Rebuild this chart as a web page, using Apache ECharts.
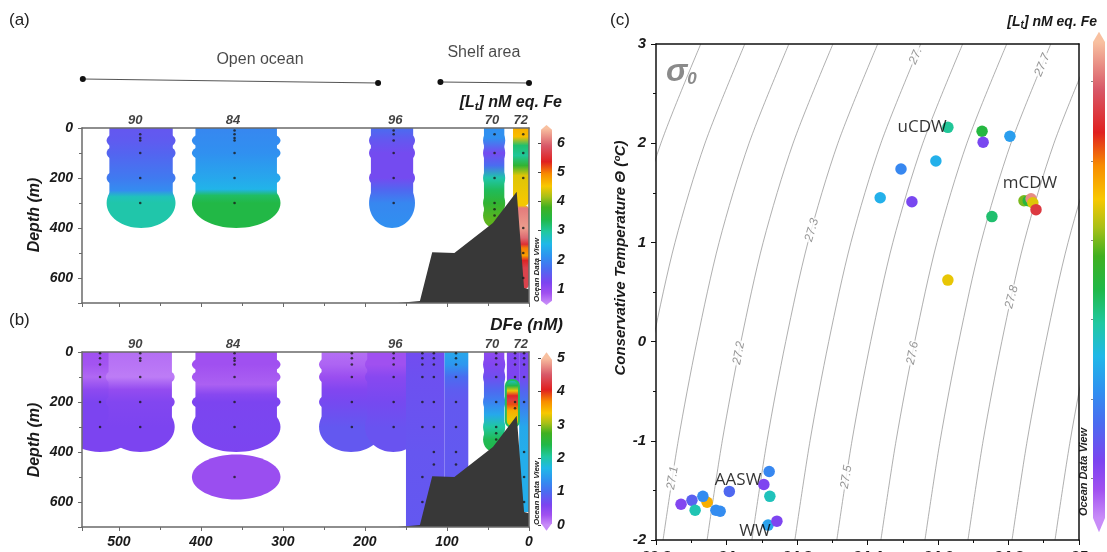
<!DOCTYPE html>
<html><head><meta charset="utf-8">
<script src="https://cdn.jsdelivr.net/npm/echarts@6/dist/echarts.min.js"></script>
<style>html,body{margin:0;padding:0;background:#fff}#c{width:1107px;height:552px}</style>
</head><body><div id="c"></div>
<script>
// ---------------- DATA ----------------
// Section (a): total ligands [Lt] (nM eq. Fe) vs distance (km) and depth (m)
const secA_labelNames = ['90','84','96','70','72'];
const secA_labelKm = [480, 361, 163, 45, 10];
const secA_sampleKm = [474, 359, 165, 42, 7];
const secA_sampleDepths = [[25,40,50,100,200,300],[10,25,40,50,100,200,300],[10,25,50,100,200,300],[25,100,200,300,325,350],[25,100,200,400,500,600]];
const secA_prof90 = [[0,1.45],[50,1.5],[100,1.6],[200,1.85],[250,2.05],[275,2.8],[300,2.9],[400,2.9]];
const secA_prof84 = [[0,2.0],[100,2.1],[200,2.35],[245,2.5],[270,3.25],[300,3.4],[400,3.4]];
const secA_prof96 = [[0,1.7],[50,1.45],[100,1.3],[200,1.3],[250,1.65],[300,2.0],[400,2.1]];
const secA_prof70 = [[0,2.1],[40,2.1],[100,1.3],[150,1.7],[200,2.9],[250,3.3],[300,3.6],[370,3.9],[400,3.9]];
const secA_prof72 = [[0,4.7],[35,4.6],[70,3.2],[110,3.0],[150,3.6],[190,4.4],[290,4.5],[310,4.5],[320,6.1],[400,6.3],[440,6.0],[465,5.5],[480,5.0],[510,4.8],[530,5.4],[560,5.7],[645,5.7]];
// gridded patches: [km from, km to, depth from, depth to, profile, footprint, sample depths]
const secA_patches = [
  [515, 431, 0, 400, secA_prof90, 'blob', [50,100,200,300]],
  [411, 303, 0, 400, secA_prof84, 'blob', [50,100,200,300]],
  [195, 139, 0, 400, secA_prof96, 'blob', [50,100,200,300]],
  [56, 29, 0, 400, secA_prof70, 'blob', [50,100,200,300,350]],
  [19.5, 0, 0, 312, secA_prof72, 'roundB'],
  [19.5, 0, 308, 645, secA_prof72, 'round']
];
// Section (b): dissolved Fe (nM)
const secB_labelNames = ['90','84','96','70','72'];
const secB_labelKm = [480, 361, 163, 45, 10];
const secB_sampleKm = [523, 474, 359, 216, 165, 130, 116, 89, 40, 17, 6];
const secB_sampleDepths = [
  [5,25,50,100,200,300],[5,25,35,100,200,300],[5,25,35,50,100,200,300,500],
  [5,25,50,100,200,300],[5,25,50,100,200,300],[5,25,50,100,200,300,500,600],
  [5,25,50,100,200,300,400,450],[5,25,50,100,200,300,400,450],
  [5,25,50,100,200,300,325,350],[5,25,50,100,200,225],[5,25,50,100,200,400,500,600]];
const secB_prof523 = [[0,0.3],[50,0.28],[100,0.18],[150,0.45],[200,0.6],[300,0.6],[400,0.6]];
const secB_prof474 = [[0,0.15],[50,0.12],[100,0.08],[150,0.4],[200,0.55],[300,0.6],[400,0.6]];
const secB_prof84 = [[0,0.3],[50,0.3],[100,0.25],[130,0.22],[170,0.5],[200,0.6],[300,0.62],[400,0.6]];
const secB_prof84deep = [[410,0.35],[590,0.35]];
const secB_prof216 = [[0,0.15],[50,0.2],[100,0.35],[150,0.55],[200,0.65],[300,0.8],[400,0.8]];
const secB_prof165 = [[0,0.3],[50,0.3],[100,0.5],[200,0.65],[300,0.75],[400,0.75]];
const secB_prof123 = [[0,0.68],[100,0.72],[400,0.78],[700,0.8]];
const secB_prof89 = [[0,1.55],[50,1.4],[100,1.0],[150,0.85],[200,0.8],[700,0.82]];
const secB_prof70 = [[0,0.45],[50,0.55],[100,0.7],[150,0.95],[200,1.2],[250,1.55],[300,2.05],[350,2.35],[400,2.4]];
const secB_prof72top = [[0,0.55],[100,0.6],[135,0.65]];
const secB_prof72 = [[0,0.6],[100,0.65],[150,0.9],[200,1.1],[300,1.55],[400,1.6],[640,1.6]];
const secB_profHot = [[112,1.8],[135,2.4],[155,3.3],[175,4.1],[190,4.25],[210,3.9],[235,3.5],[270,3.3],[300,3.2]];
const secB_patches = [
  [568, 478, 0, 400, secB_prof523, 'blob', [50,100,200,300]],
  [516, 432, 0, 400, secB_prof474, 'blob', [100,200,300]],
  [411, 303, 0, 400, secB_prof84, 'blob', [50,100,200,300]],
  [411, 303, 410, 590, secB_prof84deep, 'ellipse'],
  [256, 178, 0, 400, secB_prof216, 'blob', [50,100,200,300]],
  [200, 131, 0, 400, secB_prof165, 'blob', [50,100,200,300]],
  [150, 103, 0, 700, secB_prof123, 'rect'],
  [103, 74, 0, 700, secB_prof89, 'rect'],
  [56, 29, 0, 400, secB_prof70, 'blob', [50,100,200,300,350]],
  [27, 12, 0, 135, secB_prof72top, 'rect'],
  [12, 0, 0, 640, secB_prof72, 'rect'],
  [29.5, 11, 112, 300, secB_profHot, 'halo']
];
// Bathymetry (km, depth)
const bathymetry = [[160,700],[133,692],[118,497],[91,500],[44,380],[15,255],[6,640],[0,645],[0,700]];
// Region brackets (km)
const regionNames = ['Open ocean','Shelf area'];
const regionFromKm = [544, 108];
const regionToKm = [184, 0];
const regionLabelKm = [328, 55];

// Panel (c): T-S diagram
const tsSalinity = [34.628,34.725,34.728,34.804,34.495,34.594,34.436,34.526,34.753,34.844,34.856,34.864,34.869,34.878,34.628,
  34.121,34.106,34.123,34.008,33.871,33.902,33.911,33.945,33.933,33.970,33.982,34.118,34.143];
const tsTemperature = [2.16,2.12,2.01,2.07,1.74,1.82,1.45,1.41,1.26,1.42,1.42,1.44,1.40,1.33,0.62,
  -1.31,-1.44,-1.56,-1.51,-1.64,-1.60,-1.70,-1.62,-1.56,-1.70,-1.71,-1.85,-1.81];
const tsLt = [3.0,3.45,1.25,2.25,2.0,2.45,2.45,1.25,3.2,4.0,3.5,6.2,4.4,5.6,4.45,
  2.0,1.2,2.8,1.65,1.15,1.55,2.85,4.7,2.05,2.05,2.05,2.3,1.2];
const waterMassNames = ['uCDW','mCDW','AASW','WW'];
const waterMassS = [34.555, 34.861, 34.033, 34.081];
const waterMassT = [2.163, 1.60, -1.395, -1.91];
// isopycnals sigma0: salinity at T = -2..3
const isoT = [-2,-1,0,1,2,3];
const isoNames = ['26.9','27.0','27.1','27.2','27.3','27.4','27.5','27.6','27.7','27.8','27.9','28.0'];
const iso269 = [33.570,33.613,33.666,33.729,33.814,33.927];
const iso270 = [33.695,33.738,33.791,33.854,33.939,34.052];
const iso271 = [33.820,33.863,33.916,33.979,34.064,34.177];
const iso272 = [33.945,33.988,34.041,34.104,34.189,34.302];
const iso273 = [34.072,34.115,34.168,34.231,34.316,34.429];
const iso274 = [34.194,34.237,34.290,34.353,34.438,34.551];
const iso275 = [34.313,34.356,34.409,34.472,34.557,34.670];
const iso276 = [34.438,34.481,34.534,34.597,34.682,34.795];
const iso277 = [34.563,34.606,34.659,34.722,34.807,34.920];
const iso278 = [34.685,34.728,34.781,34.844,34.929,35.042];
const iso279 = [34.810,34.853,34.906,34.969,35.054,35.167];
const iso280 = [34.932,34.975,35.028,35.091,35.176,35.289];
const isoLabelText = ['27.1','27.2','27.3','27.','27.5','27.6','27.7','27.8'];
const isoLabelS = [33.847, 34.035, 34.242, 34.537, 34.340, 34.528, 34.896, 34.809];
const isoLabelT = [-1.375, -0.115, 1.125, 2.88, -1.365, -0.115, 2.79, 0.45];

// ---------------- STYLE / HELPERS ----------------
const FONT = "'Liberation Sans', Arial, sans-serif";
const CMAP = [[0,'#c88cf8'],[0.06,'#a050f0'],[0.12,'#7c44f0'],[0.20,'#4a6cf0'],[0.27,'#2f92f0'],[0.34,'#20b8e8'],
  [0.41,'#20c8a0'],[0.48,'#20b848'],[0.55,'#40b020'],[0.61,'#a8c018'],[0.67,'#f8c800'],[0.74,'#f88c00'],
  [0.81,'#e02020'],[0.90,'#d85868'],[1.0,'#f8c0a0']];
function rgbOf(h){return [parseInt(h.slice(1,3),16),parseInt(h.slice(3,5),16),parseInt(h.slice(5,7),16)];}
function cmap(t){
  t = Math.max(0, Math.min(1, t));
  for (let i = 1; i < CMAP.length; i++) {
    if (t <= CMAP[i][0]) {
      const t0 = CMAP[i-1][0], t1 = CMAP[i][0];
      const a = rgbOf(CMAP[i-1][1]), b = rgbOf(CMAP[i][1]);
      const f = (t - t0) / (t1 - t0);
      return 'rgb(' + a.map((c,k)=>Math.round(c + (b[k]-c)*f)).join(',') + ')';
    }
  }
  return CMAP[CMAP.length-1][1];
}
const ltColor = v => cmap((v - 0.5) / 6);
const dfeColor = v => cmap(v / 5);
const clamp01 = x => Math.max(0, Math.min(1, x));
const boldIt = (size, color) => ({fontFamily: FONT, fontWeight: 'bold', fontStyle: 'italic', fontSize: size, color: color || '#1a1a1a'});

function sectionSeries(ai, patches, colorFn) {
  return {
    type: 'custom', xAxisIndex: ai, yAxisIndex: ai, clip: true, z: 2, silent: true,
    data: patches.map((p, i) => [p[0], p[2], i]),
    encode: {x: 0, y: 1},
    renderItem(params, api) {
      const p = patches[api.value(2)];
      const kmL = p[0], kmR = p[1], z0 = p[2], z1 = p[3], prof = p[4], shape = p[5], sc = p[6];
      const a = api.coord([kmL, z0]), b = api.coord([kmR, z1]);
      const x0 = Math.min(a[0], b[0]), x1 = Math.max(a[0], b[0]);
      const y0 = a[1], y1 = b[1];
      const stops = prof.map(d => ({offset: clamp01((d[0] - z0) / (z1 - z0)), color: colorFn(d[1])}));
      const fill = new echarts.graphic.LinearGradient(0, y0, 0, y1, stops, true);
      const cx = (x0 + x1) / 2, hw = (x1 - x0) / 2;
      const ch = [];
      if (shape === 'rect') ch.push({type: 'rect', shape: {x: x0, y: y0, width: x1 - x0, height: y1 - y0}, style: {fill}});
      else if (shape === 'round') ch.push({type: 'rect', shape: {x: x0, y: y0, width: x1 - x0, height: y1 - y0, r: 5}, style: {fill}});
      else if (shape === 'roundB') ch.push({type: 'rect', shape: {x: x0, y: y0, width: x1 - x0, height: y1 - y0, r: [0,0,5,5]}, style: {fill}});
      else if (shape === 'halo') ch.push({type: 'rect', shape: {x: x0 + 1, y: y0, width: x1 - x0 - 2, height: y1 - y0, r: 6}, style: {fill, stroke: colorFn(2.3), lineWidth: 2}});
      else if (shape === 'ellipse') ch.push({type: 'ellipse', shape: {cx, cy: (y0 + y1) / 2, rx: hw, ry: (y1 - y0) / 2}, style: {fill}});
      else if (shape === 'blob') {
        const last = sc[sc.length - 1];
        const yl = api.coord([kmL, last])[1];
        const ry50 = Math.abs(api.coord([kmL, 50])[1] - api.coord([kmL, 0])[1]);
        ch.push({type: 'rect', shape: {x: cx - hw * 0.92, y: y0, width: hw * 1.84, height: yl - y0}, style: {fill}});
        sc.slice(0, -1).forEach(d => ch.push({type: 'ellipse', shape: {cx, cy: api.coord([kmL, d])[1], rx: hw, ry: ry50}, style: {fill}}));
        ch.push({type: 'ellipse', shape: {cx, cy: yl, rx: hw, ry: y1 - yl}, style: {fill}});
      }
      return {type: 'group', children: ch};
    }
  };
}
function bathySeries(ai) {
  return {type: 'custom', xAxisIndex: ai, yAxisIndex: ai, clip: true, z: 3, silent: true, data: [[0, 0]],
    renderItem(params, api) {
      return {type: 'polygon', shape: {points: bathymetry.map(p => api.coord(p))}, style: {fill: '#383838'}};
    }};
}
function dotSeries(ai, kms, depths) {
  const d = [];
  kms.forEach((k, i) => depths[i].forEach(z => d.push([k, z])));
  return {type: 'scatter', xAxisIndex: ai, yAxisIndex: ai, symbolSize: 2.6, z: 6, silent: true,
    itemStyle: {color: '#1a1a1a'}, data: d};
}
function stationLabelSeries(ai, names, kms) {
  return {type: 'scatter', xAxisIndex: ai, yAxisIndex: ai, symbolSize: 0, z: 7, silent: true, clip: false,
    data: names.map((n, i) => ({name: n, value: [kms[i], 0]})),
    label: Object.assign({show: true, position: 'top', distance: 1, formatter: p => p.name}, boldIt(13, '#111'))};
}
function cbarSeries(ai, body, tips, domain) {
  return {type: 'custom', xAxisIndex: ai, yAxisIndex: ai, z: 1, silent: true, clip: false, data: [[0.5, domain[0]]],
    renderItem(params, api) {
      const pts = [[0, body[0]], [0, body[1]], [0.5, tips[1]], [1, body[1]], [1, body[0]], [0.5, tips[0]]].map(p => api.coord(p));
      const yb = api.coord([0, domain[0]])[1], yt = api.coord([0, domain[1]])[1];
      const fill = new echarts.graphic.LinearGradient(0, yb, 0, yt, CMAP.map(c => ({offset: c[0], color: c[1]})), true);
      return {type: 'polygon', shape: {points: pts}, style: {fill}};
    }};
}

const grayLine = {show: true, onZero: false, lineStyle: {color: '#6a6a6a', width: 1.5}};
function secXAxis(gi, showLabels) {
  return {type: 'value', gridIndex: gi, inverse: true, min: 0, max: 545, interval: 100, position: 'bottom',
    axisLine: grayLine, axisTick: {show: true, length: 4, lineStyle: {color: '#6a6a6a'}},
    minorTick: {show: true, splitNumber: 2, length: 3, lineStyle: {color: '#6a6a6a'}},
    axisLabel: Object.assign({show: showLabels, margin: 8, showMaxLabel: false}, boldIt(14)), splitLine: {show: false}, z: 5};
}
function secYAxis(gi) {
  return {type: 'value', gridIndex: gi, inverse: true, min: 0, max: 700, interval: 200,
    axisLine: grayLine, axisTick: {show: true, length: 4, lineStyle: {color: '#6a6a6a'}},
    minorTick: {show: true, splitNumber: 2, length: 3, lineStyle: {color: '#6a6a6a'}},
    axisLabel: Object.assign({margin: 9, showMaxLabel: false}, boldIt(14)), splitLine: {show: false}, z: 5};
}
function frameAxis(gi, pos, min, max, color, width, extra) {
  return Object.assign({type: 'value', gridIndex: gi, position: pos, min, max,
    axisLine: {show: true, onZero: false, lineStyle: {color, width}}, axisTick: {show: false}, axisLabel: {show: false},
    splitLine: {show: false}, z: 5}, extra || {});
}
function hiddenAxis(gi, min, max, extra) {
  return Object.assign({type: 'value', gridIndex: gi, min, max, show: false, splitLine: {show: false}}, extra || {});
}
const isoRows = [iso269, iso270, iso271, iso272, iso273, iso274, iso275, iso276, iso277, iso278, iso279, iso280];
const isoLabelRotate = [81, 79, 74, 67, 81, 79, 68, 76];
const G = (o) => Object.assign({outerBoundsMode: 'none', containLabel: false}, o);

// axis indices: a-section 0 (frame 1), b-section 2 (frame 3), brackets 4, T-S 5 (frame 6), bars 7,8,9
const option = {
  animation: false,
  backgroundColor: '#fff',
  grid: [
    G({left: 82, top: 128, width: 447, height: 175}),   // 0 section a
    G({left: 82, top: 352, width: 447, height: 175}),   // 1 section b
    G({left: 82, top: 40, width: 447, height: 50}),     // 2 region brackets
    G({left: 656, top: 44, width: 423, height: 496}),   // 3 T-S
    G({left: 541, top: 143, width: 11, height: 146}),   // 4 colour bar a
    G({left: 541, top: 358, width: 11, height: 167}),   // 5 colour bar b
    G({left: 1093, top: 42, width: 12, height: 476})    // 6 colour bar c
  ],
  xAxis: [
    secXAxis(0, false),
    frameAxis(0, 'top', 0, 545, '#6a6a6a', 1.5, {inverse: true}),
    secXAxis(1, true),
    frameAxis(1, 'top', 0, 545, '#6a6a6a', 1.5, {inverse: true}),
    hiddenAxis(2, 0, 545, {inverse: true}),
    {type: 'value', gridIndex: 3, min: 33.8, max: 35, interval: 0.2, position: 'bottom',
      axisLine: {show: true, onZero: false, lineStyle: {color: '#111', width: 1.5}},
      axisTick: {show: true, length: 5, lineStyle: {color: '#111'}},
      minorTick: {show: true, splitNumber: 2, length: 3, lineStyle: {color: '#111'}},
      axisLabel: Object.assign({margin: 9}, boldIt(15)), splitLine: {show: false}, z: 5},
    frameAxis(3, 'top', 33.8, 35, '#111', 1.5),
    hiddenAxis(4, 0, 1), hiddenAxis(5, 0, 1), hiddenAxis(6, 0, 1)
  ],
  yAxis: [
    secYAxis(0),
    frameAxis(0, 'right', 0, 700, '#6a6a6a', 1.5, {inverse: true}),
    secYAxis(1),
    frameAxis(1, 'right', 0, 700, '#6a6a6a', 1.5, {inverse: true}),
    hiddenAxis(2, 0, 1, {inverse: true}),
    {type: 'value', gridIndex: 3, min: -2, max: 3, interval: 1,
      axisLine: {show: true, onZero: false, lineStyle: {color: '#111', width: 1.5}},
      axisTick: {show: true, length: 5, lineStyle: {color: '#111'}},
      minorTick: {show: true, splitNumber: 2, length: 3, lineStyle: {color: '#111'}},
      axisLabel: Object.assign({margin: 10}, boldIt(15)), splitLine: {show: false}, z: 5},
    frameAxis(3, 'right', -2, 3, '#111', 1.5),
    {type: 'value', gridIndex: 4, min: 1, max: 6, interval: 1, position: 'right', z: 5,
      axisLine: {show: false}, axisTick: {show: true, inside: true, length: 3, lineStyle: {color: '#444'}},
      axisLabel: Object.assign({margin: 5}, boldIt(14)), splitLine: {show: false}},
    {type: 'value', gridIndex: 5, min: 0, max: 5, interval: 1, position: 'right', z: 5,
      axisLine: {show: false}, axisTick: {show: true, inside: true, length: 3, lineStyle: {color: '#444'}},
      axisLabel: Object.assign({margin: 5}, boldIt(14)), splitLine: {show: false}},
    {type: 'value', gridIndex: 6, min: 0.5, max: 6.5, position: 'right', z: 5,
      axisLine: {show: false}, axisTick: {show: true, inside: true, length: 2, lineStyle: {color: 'rgba(60,60,60,0.6)'},
        customValues: [1,2,3,4,5,6]},
      axisLabel: {show: false}, splitLine: {show: false}}
  ],
  series: [
    sectionSeries(0, secA_patches, ltColor),
    bathySeries(0),
    dotSeries(0, secA_sampleKm, secA_sampleDepths),
    stationLabelSeries(0, secA_labelNames, secA_labelKm),
    sectionSeries(2, secB_patches, dfeColor),
    bathySeries(2),
    dotSeries(2, secB_sampleKm, secB_sampleDepths),
    stationLabelSeries(2, secB_labelNames, secB_labelKm),
    // region brackets
    ...regionNames.map((n, i) => ({type: 'line', xAxisIndex: 4, yAxisIndex: 4, silent: true,
      data: [[regionFromKm[i], i === 0 ? 0.78 : 0.84], [regionToKm[i], 0.86]],
      symbol: 'circle', symbolSize: 6, itemStyle: {color: '#111'}, lineStyle: {color: '#555', width: 1.2}})),
    {type: 'scatter', xAxisIndex: 4, yAxisIndex: 4, symbolSize: 0, silent: true, clip: false,
      data: regionNames.map((n, i) => ({name: n, value: [regionLabelKm[i], i === 0 ? 0.40 : 0.26]})),
      label: {show: true, position: 'inside', formatter: p => p.name, fontFamily: FONT, fontSize: 16, color: '#1a1a1a'}},
    // isopycnals
    ...isoRows.map((row, i) => ({type: 'line', name: isoNames[i], xAxisIndex: 5, yAxisIndex: 5, silent: true,
      data: isoT.map((t, j) => [row[j], t]), smooth: 0.3, symbol: 'none', clip: true, z: 1,
      lineStyle: {color: '#9a9a9a', width: 0.8}})),
    {type: 'scatter', xAxisIndex: 5, yAxisIndex: 5, symbolSize: 0, silent: true, z: 2,
      data: isoLabelText.map((n, i) => ({name: n, value: [isoLabelS[i], isoLabelT[i]],
        label: {rotate: isoLabelRotate[i]}})),
      label: {show: true, position: 'inside', formatter: p => p.name, fontFamily: FONT, fontStyle: 'italic',
        fontSize: 12, color: '#7a7a7a', backgroundColor: '#fff', padding: [0, 1]}},
    {type: 'scatter', xAxisIndex: 5, yAxisIndex: 5, symbolSize: 11.5, z: 3, silent: true,
      data: tsSalinity.map((s, i) => [s, tsTemperature[i], tsLt[i]]),
      itemStyle: {color: p => ltColor(p.value[2]), opacity: 1}},
    {type: 'scatter', xAxisIndex: 5, yAxisIndex: 5, symbolSize: 0, z: 4, silent: true,
      data: waterMassNames.map((n, i) => ({name: n, value: [waterMassS[i], waterMassT[i]]})),
      label: {show: true, position: 'inside', formatter: p => p.name, fontFamily: "'Open Sans', sans-serif", fontSize: 17, color: '#000'}},
    // colour bars
    cbarSeries(7, [0.6, 6.45], [0.45, 6.62], [0.5, 6.5]),
    cbarSeries(8, [0.05, 4.95], [-0.17, 5.17], [0, 5]),
    cbarSeries(9, [0.5, 6.5], [0.32, 6.63], [0.5, 6.5])
  ],
  graphic: [
    {type: 'text', left: 9, top: 12, style: {text: '(a)', font: '17px ' + FONT, fill: '#222'}},
    {type: 'text', left: 9, top: 312, style: {text: '(b)', font: '17px ' + FONT, fill: '#222'}},
    {type: 'text', left: 610, top: 12, style: {text: '(c)', font: '17px ' + FONT, fill: '#222'}},
    {type: 'text', x: 35, y: 215, rotation: Math.PI / 2, style: {text: 'Depth (m)', font: 'italic bold 16px ' + FONT, fill: '#1a1a1a', textAlign: 'center', textVerticalAlign: 'middle'}},
    {type: 'text', x: 35, y: 440, rotation: Math.PI / 2, style: {text: 'Depth (m)', font: 'italic bold 16px ' + FONT, fill: '#1a1a1a', textAlign: 'center', textVerticalAlign: 'middle'}},
    {type: 'text', x: 621, y: 258, rotation: Math.PI / 2, style: {text: 'Conservative Temperature Θ (ºC)', font: 'italic bold 15px ' + FONT, fill: '#1a1a1a', textAlign: 'center', textVerticalAlign: 'middle'}},
    {type: 'text', x: 562, y: 103, style: {text: '[L{s|t}] nM eq. Fe', font: 'italic bold 16px ' + FONT, fill: '#1a1a1a', textAlign: 'right', textVerticalAlign: 'middle',
      rich: {s: {fontSize: 11, fontWeight: 'bold', fontStyle: 'italic', fontFamily: FONT, verticalAlign: 'bottom', padding: [8, 0, 0, 0], fill: '#1a1a1a'}}}},
    {type: 'text', x: 563, y: 325, style: {text: 'DFe (nM)', font: 'italic bold 17px ' + FONT, fill: '#1a1a1a', textAlign: 'right', textVerticalAlign: 'middle'}},
    {type: 'text', x: 1097, y: 22, style: {text: '[L{s|t}] nM eq. Fe', font: 'italic bold 14px ' + FONT, fill: '#1a1a1a', textAlign: 'right', textVerticalAlign: 'middle',
      rich: {s: {fontSize: 10, fontWeight: 'bold', fontStyle: 'italic', fontFamily: FONT, verticalAlign: 'bottom', padding: [7, 0, 0, 0], fill: '#1a1a1a'}}}},
    {type: 'text', x: 537, y: 270, rotation: Math.PI / 2, style: {text: 'Ocean Data View', font: 'italic bold 8px ' + FONT, fill: '#222', textAlign: 'center', textVerticalAlign: 'middle'}},
    {type: 'text', x: 537, y: 493, rotation: Math.PI / 2, style: {text: 'Ocean Data View', font: 'italic bold 8px ' + FONT, fill: '#222', textAlign: 'center', textVerticalAlign: 'middle'}},
    {type: 'text', x: 1084, y: 472, rotation: Math.PI / 2, style: {text: 'Ocean Data View', font: 'italic bold 11px ' + FONT, fill: '#222', textAlign: 'center', textVerticalAlign: 'middle'}},
    {type: 'text', x: 666, y: 56, style: {text: '{a|σ}{b|0}', font: 'italic bold 30px ' + FONT, fill: '#8a8a8a',
      rich: {a: {fontSize: 32, fontWeight: 'bold', fontStyle: 'italic', fontFamily: FONT, fill: '#8a8a8a'},
             b: {fontSize: 17, fontWeight: 'bold', fontStyle: 'italic', fontFamily: FONT, fill: '#8a8a8a', verticalAlign: 'bottom', padding: [14, 0, 0, 0]}}}}
  ]
};
const chart = echarts.init(document.getElementById('c'), null, {renderer: 'canvas'});
chart.setOption(option);
</script></body></html>
